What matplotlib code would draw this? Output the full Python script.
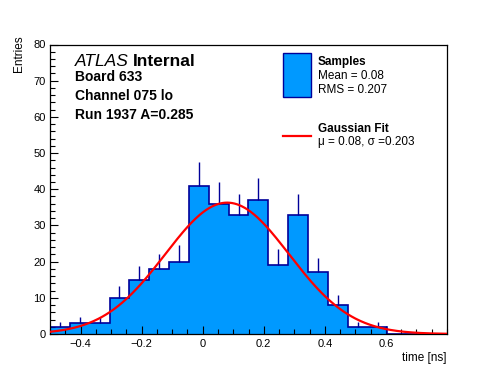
import numpy as np
import matplotlib
matplotlib.use('Agg')
from matplotlib import pyplot as plt
from matplotlib.ticker import MultipleLocator

plt.rcParams['font.family'] = ['Liberation Sans', 'DejaVu Sans']

# histogram: 20 bins of 0.065 ns from -0.5 to 0.8
edges = [-0.5, -0.435, -0.37, -0.305, -0.24, -0.175, -0.11, -0.045, 0.02, 0.085, 0.15,
         0.215, 0.28, 0.345, 0.41, 0.475, 0.54, 0.605, 0.67, 0.735, 0.8]
counts = [2, 3, 3, 10, 15, 18, 20, 41, 36, 33, 37, 19, 33, 17, 8, 2, 2, 0, 0, 0]

# gaussian fit parameters
fit_amp = 36.3
fit_mu = 0.08
fit_sigma = 0.203

xticks = [-0.4, -0.2, 0, 0.2, 0.4, 0.6]
xticklabels = ['\u22120.4', '\u22120.2', '0', '0.2', '0.4', '0.6']
yticks = [0, 10, 20, 30, 40, 50, 60, 70, 80]

fill_c = '#0099ff'
edge_c = '#000099'

fig = plt.figure(figsize=(4.96, 3.72), dpi=100)
ax = fig.add_axes([50/496, 38/372, 397/496, 289.5/372])

edges = np.array(edges)
counts = np.array(counts)
ax.stairs(counts, edges, fill=True, color=fill_c, zorder=1)
ax.stairs(counts, edges, fill=False, color=edge_c, lw=1.2, zorder=2)

centers = (edges[:-1] + edges[1:]) / 2
nz = counts > 0
ax.vlines(centers[nz], counts[nz], counts[nz] + np.sqrt(counts[nz]),
          color=edge_c, lw=1.0, zorder=2)

xs = np.linspace(-0.5, 0.8, 500)
ys = fit_amp * np.exp(-0.5 * ((xs - fit_mu) / fit_sigma) ** 2)
ax.plot(xs, ys, color='red', lw=1.6, zorder=3)

ax.set_xlim(-0.5, 0.8)
ax.set_ylim(0, 80)
ax.set_xticks(xticks)
ax.set_xticklabels(xticklabels)
ax.set_yticks(yticks)
ax.xaxis.set_minor_locator(MultipleLocator(0.05))
ax.yaxis.set_minor_locator(MultipleLocator(2))
ax.tick_params(which='both', direction='in', top=False, right=False,
               labelsize=8, width=0.8)
ax.tick_params(which='major', length=6)
ax.tick_params(which='minor', length=3.5)
ax.tick_params(axis='x', pad=3.5)
ax.tick_params(axis='y', pad=3)
for s in ax.spines.values():
    s.set_linewidth(0.9)

ax.set_xlabel('time [ns]', fontsize=8.5, loc='right', labelpad=2)
ax.set_ylabel('Entries', fontsize=8.5, loc='top')
ax.yaxis.set_label_coords(-0.062, 1.033)

# labels upper left
fig.text(75/496, 1 - 66/372, 'ATLAS', fontsize=12.5, style='italic', va='baseline')
fig.text(133/496, 1 - 66/372, 'Internal', fontsize=12.5, weight='bold', va='baseline')
fig.text(75/496, 1 - 81/372, 'Board 633', fontsize=10, weight='bold', va='baseline')
fig.text(75/496, 1 - 100/372, 'Channel 075 lo', fontsize=10, weight='bold', va='baseline')
fig.text(75/496, 1 - 118.5/372, 'Run 1937 A=0.285', fontsize=10, weight='bold', va='baseline')

# legend drawn by hand, ROOT style
box = plt.Rectangle((283/496, 1 - 97/372), 28/496, 44/372, transform=fig.transFigure,
                    facecolor=fill_c, edgecolor=edge_c, lw=1.0)
fig.add_artist(box)
fig.text(318/496, 1 - 62/372, 'Samples', fontsize=8.5, weight='bold', va='center')
fig.text(318/496, 1 - 76/372, 'Mean = 0.08', fontsize=8.5, va='center')
fig.text(318/496, 1 - 90/372, 'RMS = 0.207', fontsize=8.5, va='center')
fig.add_artist(plt.Line2D([283/496, 311/496], [1 - 136/372, 1 - 136/372],
                          transform=fig.transFigure, color='red', lw=1.6))
fig.text(318/496, 1 - 129/372, 'Gaussian Fit', fontsize=8.5, weight='bold', va='center')
fig.text(318/496, 1 - 142/372, '\u03bc = 0.08, \u03c3 =0.203', fontsize=8.5, va='center')

fig.savefig('out.png', dpi=100)
